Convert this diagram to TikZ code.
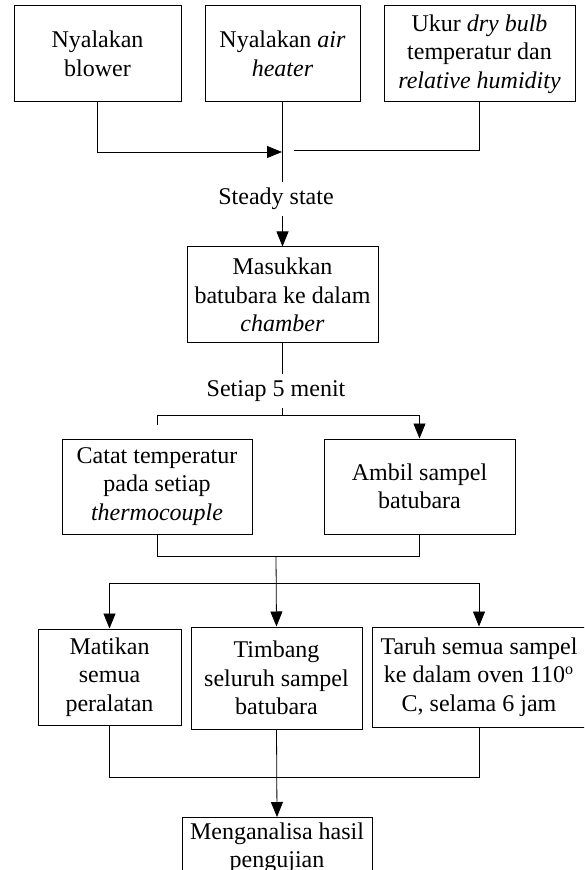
\documentclass[tikz,border=0pt]{standalone}
\usepackage{fontspec}
\setmainfont{Liberation Serif}
\usetikzlibrary{arrows.meta}

\begin{document}
\begin{tikzpicture}[x=0.5pt,y=-0.5pt]
  \tikzset{ b/.style={draw,align=center,inner sep=0pt,line width=0.5pt,
      font=\fontsize{12}{14.25}\selectfont},
    t/.style={align=center,inner xsep=0pt,inner ysep=3pt,
      font=\fontsize{12}{14.25}\selectfont},
    arr/.style={-{Triangle[length=7.5pt,width=6pt]}},
  }
  \clip (0,0) rectangle (584,870);

  \node[b,minimum width=83.5pt,minimum height=48pt] (blow) at (97.5,54) {Nyalakan\\blower};
  \node[b,minimum width=77.5pt,minimum height=48pt] (heat) at (282.5,54) {Nyalakan \textit{air}\\\textit{heater}};
  \node[b,minimum width=95.5pt,minimum height=48pt] (ukur) at (479.5,54) {Ukur \textit{dry bulb}\\temperatur dan\\\textit{relative humidity}};
  \node[t] (ss) at (276,199) {Steady state};
  \node[b,minimum width=95.5pt,minimum height=48pt] (masuk) at (282.5,295) {Masukkan\\batubara ke dalam\\\textit{chamber}};
  \node[t] (tiap) at (276,391) {Setiap 5 menit};
  \node[b,minimum width=95pt,minimum height=47.5pt] (catat) at (157,486.5) {Catat temperatur\\pada setiap\\\textit{thermocouple}};
  \node[b,minimum width=95.5pt,minimum height=47.5pt] (ambil) at (419.5,486.5) {Ambil sampel\\batubara};
  \node[b,minimum width=71.5pt,minimum height=48pt] (mati) at (109.5,677) {Matikan\\semua\\peralatan};
  \node[b,minimum width=85.5pt,minimum height=51pt] (timbang) at (276.5,678) {Timbang\\seluruh sampel\\batubara};
  \node[b,minimum width=107pt,minimum height=50pt] (taruh) at (479,677) {Taruh semua sampel\\ke dalam oven 110\textsuperscript{o}\\C, selama 6 jam};
  \node[b,minimum width=95pt,inner ysep=2.5pt,anchor=north] (analisa) at (277,817) {Menganalisa hasil\\pengujian\\[4pt]};

  \coordinate (j1) at (282,152);
  \coordinate (j1c) at (294,150);
  \coordinate (s1) at (282.5,415);
  \coordinate (stub) at (157,425);
  \coordinate (j2) at (276,556);
  \coordinate (s2) at (276,583);
  \coordinate (j3) at (276,777);

  \draw[arr] (blow.south) |- (j1);
  \draw (ukur.south) |- (j1c);
  \draw (heat.south) -- (heat.south |- ss.north);
  \draw[arr] (heat.south |- ss.south) -- (masuk.north);
  \draw (masuk.south) -- (masuk.south |- tiap.north);
  \draw (masuk.south |- tiap.south) -- (s1);
  \draw (s1) -| (stub);
  \draw[arr] (s1) -| (ambil.north);
  \draw (catat.south) |- (ambil.south |- j2) -- (ambil.south);
  \draw[arr] (j2) -- (timbang.north);
  \draw[arr] (s2) -| (mati.north);
  \draw[arr] (s2) -| (taruh.north);
  \draw (mati.south) |- (taruh.south |- j3) -- (taruh.south);
  \draw[arr] (timbang.south) -- (analisa.north);
\end{tikzpicture}
\end{document}
